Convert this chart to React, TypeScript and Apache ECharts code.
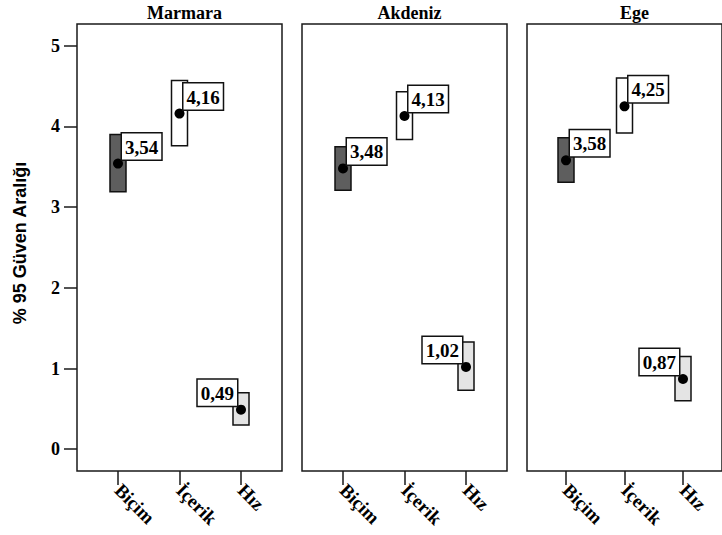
import React, { useEffect, useRef } from "react";
import * as echarts from "echarts";

const regions = ["Marmara", "Akdeniz", "Ege"];
const categories = ["Biçim", "İçerik", "Hız"];
const means = [
  [3.54, 4.16, 0.49],
  [3.48, 4.13, 1.02],
  [3.58, 4.25, 0.87],
];
const lowers = [
  [3.19, 3.76, 0.3],
  [3.21, 3.84, 0.73],
  [3.31, 3.92, 0.6],
];
const uppers = [
  [3.9, 4.57, 0.7],
  [3.75, 4.43, 1.33],
  [3.86, 4.6, 1.15],
];
const yTicks = [0, 1, 2, 3, 4, 5];
const yTitle = "% 95 Güven Aralığı";

const boxColors = ["#5e5e5e", "#ffffff", "#e4e4e4"];
const SERIF = "'Liberation Serif', 'Times New Roman', serif";
const SANS = "'Liberation Sans', Arial, sans-serif";

export default function App() {
  const ref = useRef<HTMLDivElement>(null);
  useEffect(() => {
    if (!ref.current) return;
    const chart = echarts.init(ref.current, null, { renderer: "svg" });
    const panelLeft = 77;
    const panelStep = 225;
    const panelWidth = 205;
    const grids: any[] = [];
    const xAxes: any[] = [];
    const yAxes: any[] = [];
    const titles: any[] = [];
    const series: any[] = [];
    regions.forEach((name, p) => {
      const left = panelLeft + panelStep * p;
      grids.push({
        left,
        width: panelWidth,
        top: 24,
        height: 447,
        show: true,
        borderColor: "#1a1a1a",
        borderWidth: 1.5,
        backgroundColor: "transparent",
      });
      titles.push({
        text: name,
        left: left + panelWidth / 2,
        textAlign: "center",
        top: -1,
        textStyle: { fontFamily: SERIF, fontWeight: "bold", fontSize: 18, color: "#000" },
      });
      xAxes.push({
        type: "value",
        gridIndex: p,
        min: -2 / 3,
        max: 8 / 3,
        splitLine: { show: false },
        axisLine: { show: false, onZero: false },
        axisTick: {
          show: true,
          customValues: [0, 1, 2],
          length: 14,
          lineStyle: { color: "#1a1a1a", width: 1.5 },
        },
        axisLabel: {
          show: true,
          customValues: [0, 1, 2],
          rotate: -45,
          margin: 16,
          formatter: (v: number) => categories[Math.round(v)] ?? "",
          fontFamily: SERIF,
          fontWeight: "bold",
          fontSize: 19,
          color: "#000",
        },
      });
      yAxes.push({
        type: "value",
        gridIndex: p,
        min: -0.27,
        max: 5.27,
        splitLine: { show: false },
        axisLine: { show: false, onZero: false },
        axisTick: {
          show: p === 0,
          customValues: yTicks,
          length: 13,
          lineStyle: { color: "#1a1a1a", width: 1.5 },
        },
        axisLabel: {
          show: p === 0,
          customValues: yTicks,
          margin: 17,
          fontFamily: SERIF,
          fontWeight: "bold",
          fontSize: 18,
          color: "#000",
        },
      });
      const boxData = categories.map((_, i) => [i, lowers[p][i], uppers[p][i]]);
      series.push({
        type: "custom",
        xAxisIndex: p,
        yAxisIndex: p,
        z: 2,
        data: boxData,
        renderItem: (params: any, api: any) => {
          const idx = api.value(0);
          const lo = api.coord([idx, api.value(1)]);
          const hi = api.coord([idx, api.value(2)]);
          return {
            type: "rect",
            shape: { x: lo[0] - 8, y: hi[1], width: 16, height: lo[1] - hi[1] },
            style: { fill: boxColors[idx], stroke: "#111", lineWidth: 1.5 },
          };
        },
      });
      series.push({
        type: "scatter",
        xAxisIndex: p,
        yAxisIndex: p,
        z: 5,
        symbol: "circle",
        symbolSize: 10,
        itemStyle: { color: "#000", opacity: 1 },
        emphasis: { disabled: true },
        data: categories.map((_, i) => {
          const rightSide = i < 2;
          return {
            value: [i, means[p][i]],
            label: {
              show: true,
              position: rightSide ? [9, 1] : [1, 1],
              align: rightSide ? "left" : "right",
              verticalAlign: "bottom",
              formatter: (d: any) => d.value[1].toFixed(2).replace(".", ","),
              fontFamily: SERIF,
              fontWeight: "bold",
              fontSize: 19,
              lineHeight: 21,
              color: "#000",
              opacity: 1,
              backgroundColor: "#fff",
              borderColor: "#111",
              borderWidth: 1.5,
              padding: [3, 3, 2, 3],
            },
          };
        }),
      });
    });
    chart.setOption({
      animation: false,
      backgroundColor: "#fff",
      title: titles,
      grid: grids,
      xAxis: xAxes,
      yAxis: yAxes,
      series,
      graphic: [
        {
          type: "text",
          x: 19.5,
          y: 243,
          rotation: Math.PI / 2,
          style: {
            text: yTitle,
            fontFamily: SANS,
            fontWeight: "bold",
            fontSize: 18,
            fill: "#000",
            textAlign: "center",
            textVerticalAlign: "middle",
          },
        },
      ],
    });
    return () => chart.dispose();
  }, []);
  return (
    <div
      ref={ref}
      style={{ position: "fixed", left: 0, top: 0, width: 722, height: 535 }}
    />
  );
}
